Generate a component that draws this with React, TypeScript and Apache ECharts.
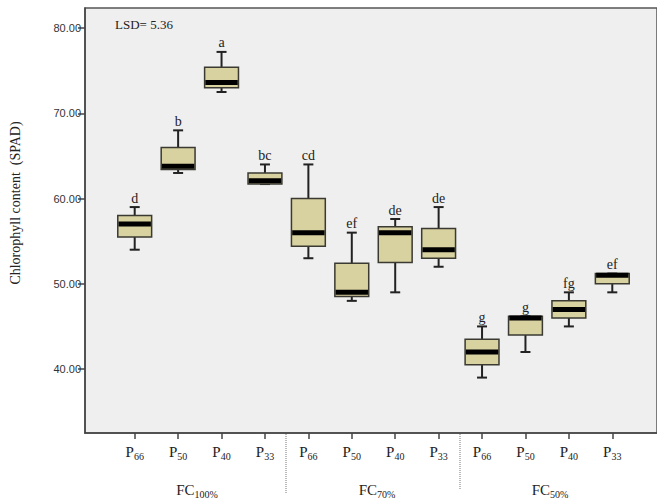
import React, { useEffect, useRef } from "react";
import * as echarts from "echarts";

const categories = ["66", "50", "40", "33", "66", "50", "40", "33", "66", "50", "40", "33"];
const groups = ["100%", "70%", "50%"];
const mins = [54, 63, 72.5, 61.7, 53, 48, 49, 52, 39, 42, 45, 49];
const q1s = [55.5, 63.4, 73, 61.7, 54.4, 48.5, 52.5, 53, 40.5, 44, 46, 50];
const medians = [57, 63.8, 73.6, 62.1, 56, 49, 56, 54, 42, 46, 47, 51];
const q3s = [58, 66, 75.4, 63, 60, 52.4, 56.7, 56.5, 43.5, 46.2, 48, 51.2];
const maxs = [59, 68, 77.2, 64, 64, 56, 57.6, 59, 45, 46.2, 49, 51.2];
const letters = ["d", "b", "a", "bc", "cd", "ef", "de", "de", "g", "g", "fg", "ef"];
const yTicks = [40, 50, 60, 70, 80];

const SERIF = "'Liberation Serif', 'Times New Roman', serif";

export default function App() {
  const ref = useRef<HTMLDivElement>(null);
  useEffect(() => {
    document.body.style.margin = "0";
    const chart = echarts.init(ref.current!, null, { renderer: "svg" });
    const data = categories.map((_, i) => [i, mins[i], q1s[i], medians[i], q3s[i], maxs[i]]);
    const yMin = 32.5;
    const yMax = 82.35;
    chart.setOption({
      animation: false,
      backgroundColor: "#ffffff",
      grid: [
        {
          left: 85,
          top: 8,
          width: 620,
          bottom: 69,
          show: true,
          backgroundColor: "#efefef",
          borderColor: "#555",
          borderWidth: 1.5,
        },
        { left: 113, top: 8, width: 521, bottom: 69 },
      ],
      xAxis: [
        {
          gridIndex: 0,
          type: "value",
          min: 0,
          max: 1,
          axisLine: { show: true, lineStyle: { color: "#444", width: 1.5 } },
          axisTick: { show: false },
          axisLabel: { show: false },
          splitLine: { show: false },
        },
        {
          gridIndex: 1,
          type: "category",
          data: categories,
          boundaryGap: true,
          axisLine: { show: false },
          axisTick: {
            show: true,
            alignWithLabel: true,
            interval: 0,
            length: 6,
            lineStyle: { color: "#444", width: 1.5 },
          },
          axisLabel: {
            interval: 0,
            margin: 10,
            formatter: (v: string) => `{p|P}{s|${v}}`,
            rich: {
              p: { fontFamily: SERIF, fontSize: 15, color: "#222" },
              s: { fontFamily: SERIF, fontSize: 10, color: "#222", padding: [8, 0, 0, 0] },
            },
          },
          splitLine: { show: false },
        },
      ],
      yAxis: [
        {
          gridIndex: 0,
          type: "value",
          min: yMin,
          max: yMax,
          axisLine: { show: true, lineStyle: { color: "#444", width: 1.5 } },
          axisTick: {
            show: true,
            length: 7,
            customValues: yTicks,
            lineStyle: { color: "#444", width: 1.5 },
          },
          axisLabel: {
            customValues: yTicks,
            formatter: (v: number) => v.toFixed(2),
            fontFamily: "'Liberation Sans', Arial, sans-serif",
            fontSize: 11,
            color: "#333",
            margin: 4,
          },
          splitLine: { show: false },
        },
        {
          gridIndex: 1,
          type: "value",
          min: yMin,
          max: yMax,
          show: false,
          splitLine: { show: false },
        },
      ],
      series: [
        {
          type: "custom",
          xAxisIndex: 1,
          yAxisIndex: 1,
          silent: true,
          itemStyle: { color: "#222" },
          data,
          encode: { x: 0, y: [1, 2, 3, 4, 5] },
          renderItem: (params: any, api: any) => {
            const i = api.value(0);
            const x = api.coord([i, api.value(3)])[0];
            const yMinP = api.coord([i, api.value(1)])[1];
            const yQ1 = api.coord([i, api.value(2)])[1];
            const yMed = api.coord([i, api.value(3)])[1];
            const yQ3 = api.coord([i, api.value(4)])[1];
            const yMaxP = api.coord([i, api.value(5)])[1];
            const bw = api.size([1, 0])[0] * 0.78;
            const cap = 10;
            const lineStyle = { stroke: "#222", lineWidth: 2 };
            return {
              type: "group",
              children: [
                { type: "line", shape: { x1: x, y1: yQ1, x2: x, y2: yMinP }, style: lineStyle },
                { type: "line", shape: { x1: x, y1: yQ3, x2: x, y2: yMaxP }, style: lineStyle },
                { type: "line", shape: { x1: x - cap / 2, y1: yMinP, x2: x + cap / 2, y2: yMinP }, style: lineStyle },
                { type: "line", shape: { x1: x - cap / 2, y1: yMaxP, x2: x + cap / 2, y2: yMaxP }, style: lineStyle },
                {
                  type: "rect",
                  shape: { x: x - bw / 2, y: yQ3, width: bw, height: Math.max(yQ1 - yQ3, 1) },
                  style: { fill: "#d8d1a0", stroke: "#3a3a32", lineWidth: 1.5 },
                },
                {
                  type: "rect",
                  shape: { x: x - bw / 2 + 0.75, y: yMed - 2.5, width: bw - 1.5, height: 5 },
                  style: { fill: "#000" },
                },
                {
                  type: "text",
                  x,
                  y: yMaxP - 2,
                  style: {
                    text: letters[params.dataIndex],
                    font: `14px ${SERIF}`,
                    fill: "#222",
                    align: "center",
                    verticalAlign: "bottom",
                  },
                },
              ],
            };
          },
        },
      ],
      graphic: [
        {
          type: "text",
          x: 115,
          y: 24,
          style: {
            text: "LSD= 5.36",
            font: `13px ${SERIF}`,
            fill: "#222",
            verticalAlign: "middle",
          },
        },
        {
          type: "text",
          x: 15,
          y: 203,
          rotation: Math.PI / 2,
          style: {
            text: "Chlorophyll content  (SPAD)",
            font: `14px ${SERIF}`,
            fill: "#222",
            align: "center",
            verticalAlign: "middle",
          },
        },
        {
          type: "line",
          shape: { x1: 286, y1: 434, x2: 286, y2: 493 },
          style: { stroke: "#777", lineWidth: 1, lineDash: [1, 1] },
        },
        {
          type: "line",
          shape: { x1: 460, y1: 434, x2: 460, y2: 490 },
          style: { stroke: "#777", lineWidth: 1, lineDash: [1, 1] },
        },
        ...groups.map((g, k) => ({
          type: "text",
          x: [197, 377, 550][k],
          y: 490,
          style: {
            text: `{f|FC}{s|${g}}`,
            rich: {
              f: { fontFamily: SERIF, fontSize: 15, fill: "#222" },
              s: { fontFamily: SERIF, fontSize: 10, fill: "#222", padding: [8, 0, 0, 0] },
            },
            align: "center",
            verticalAlign: "middle",
          },
        })),
      ],
    });
    return () => chart.dispose();
  }, []);
  return <div ref={ref} style={{ width: 657, height: 502 }} />;
}
